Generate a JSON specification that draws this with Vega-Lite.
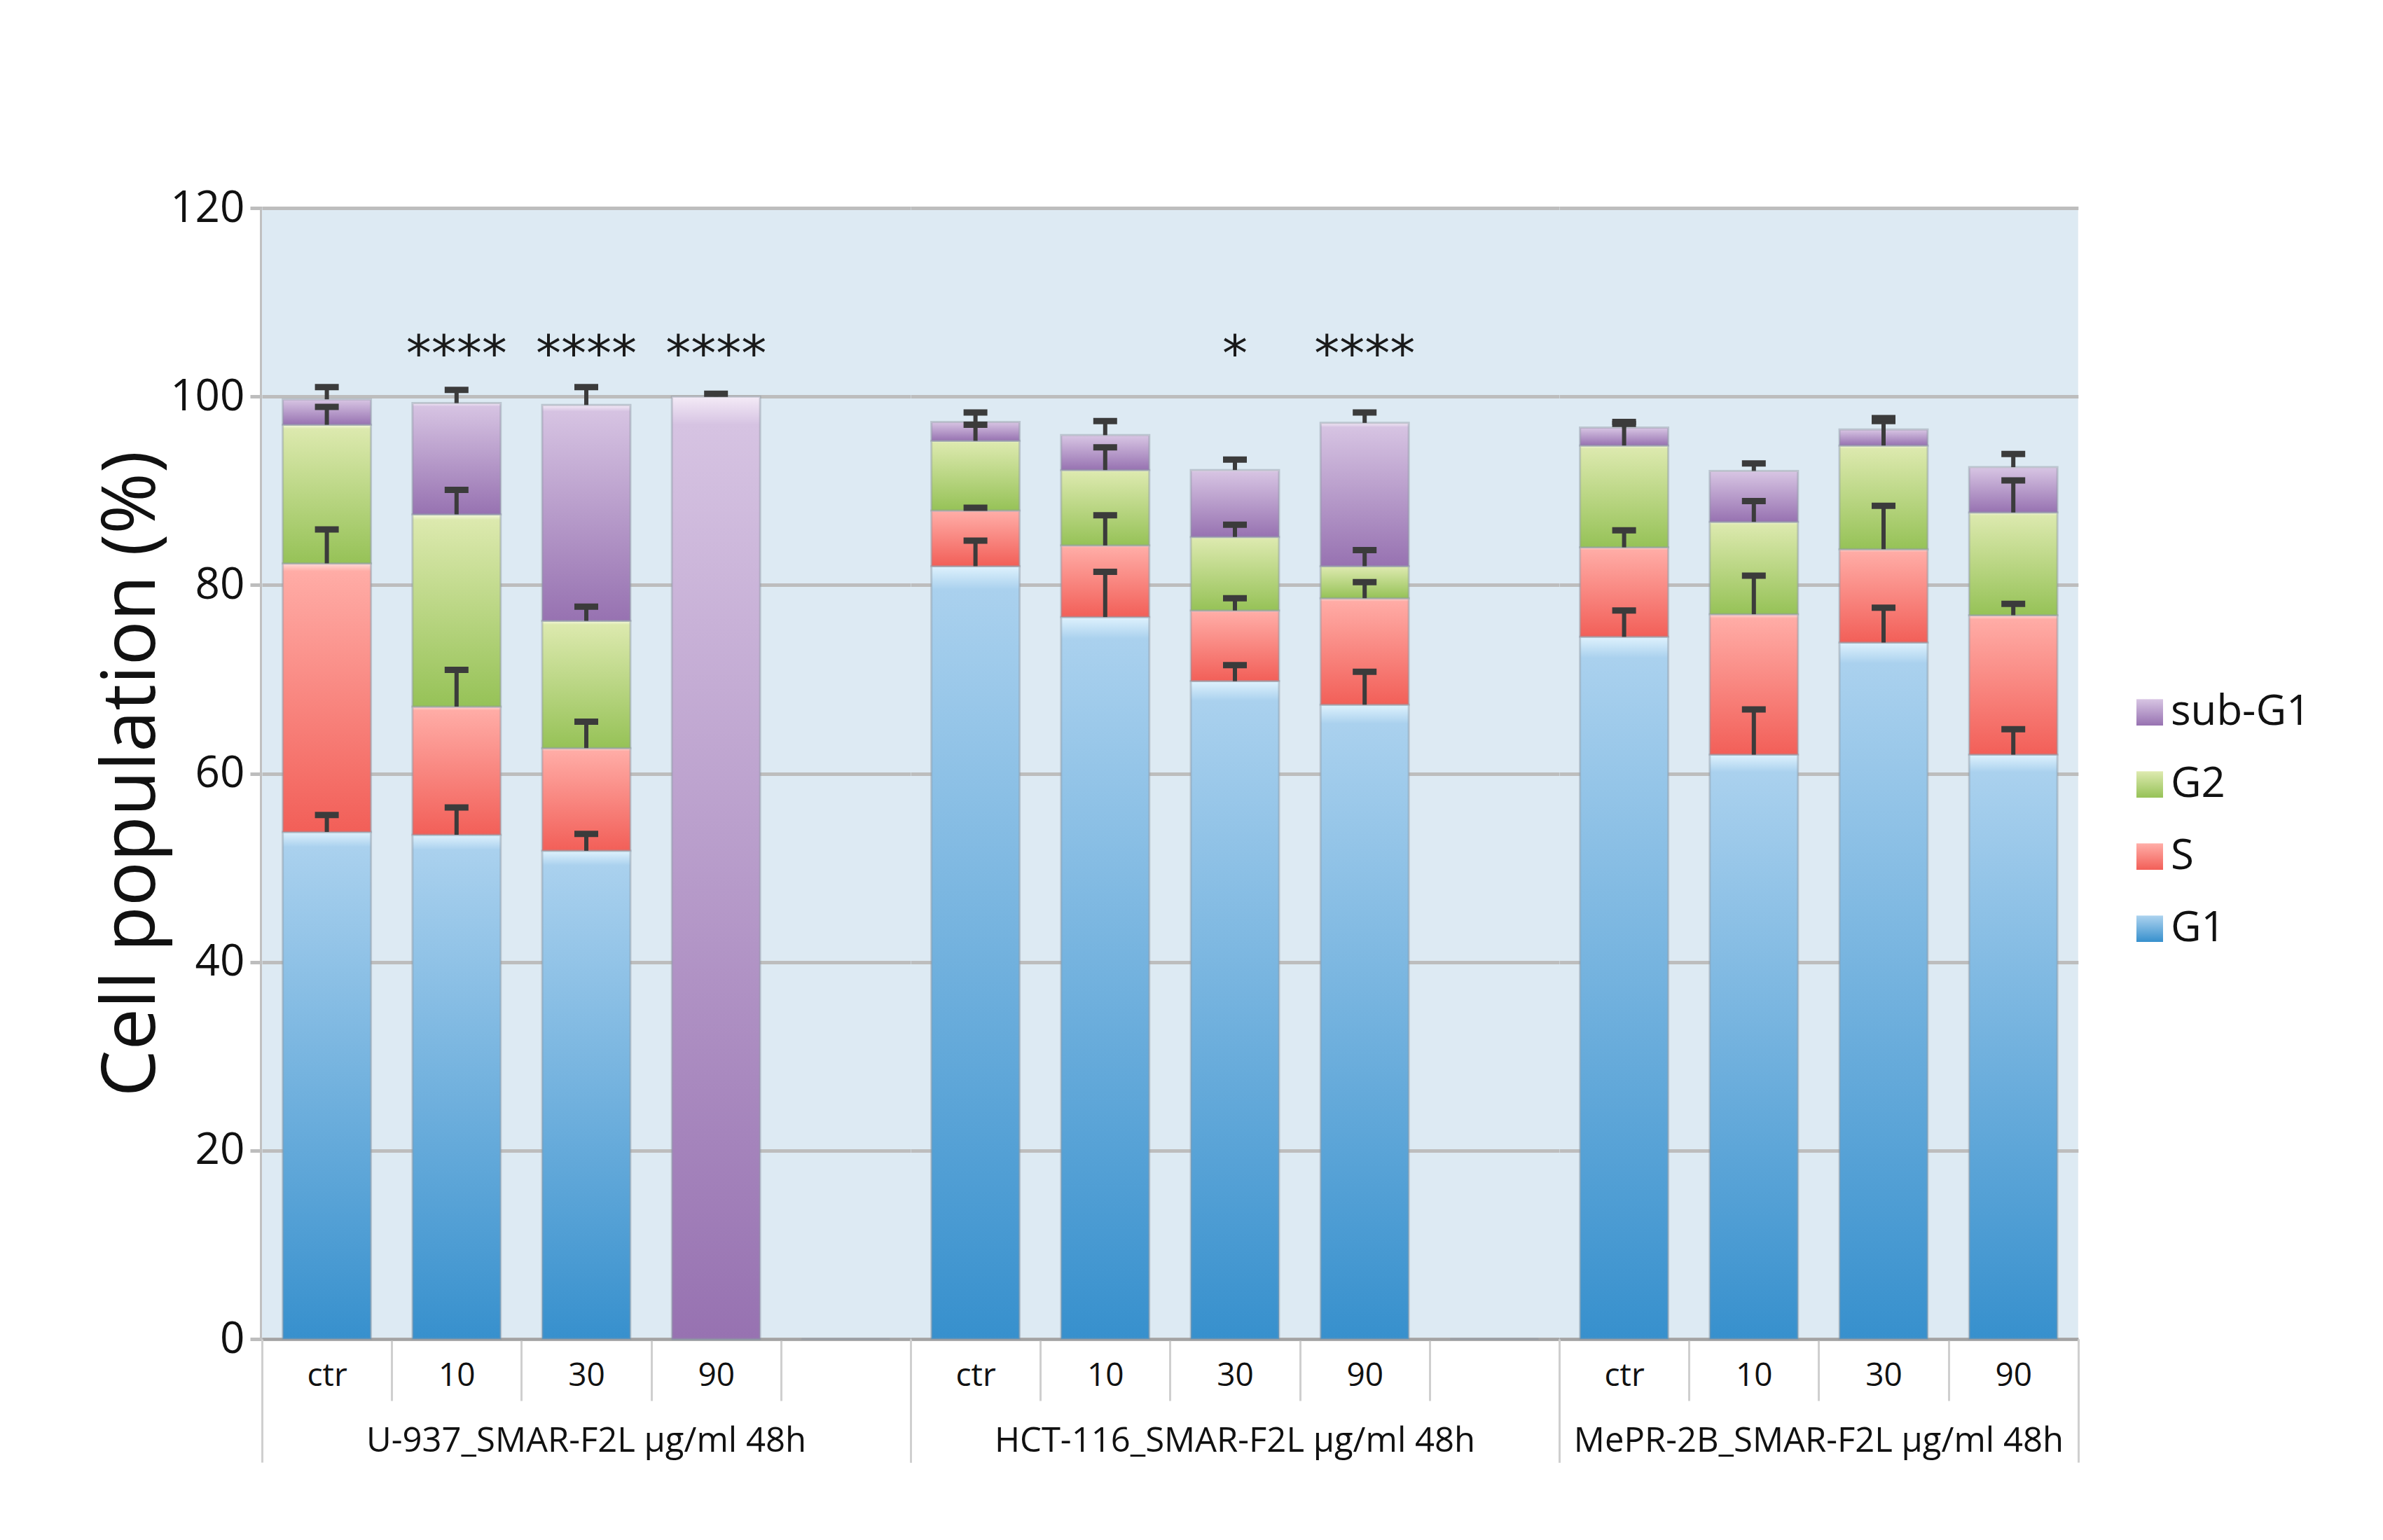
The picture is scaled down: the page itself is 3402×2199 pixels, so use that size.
{
  "$schema": "https://vega.github.io/schema/vega-lite/v6.json",
  "description": "Cell cycle distribution (stacked %) for three cell lines treated with SMAR-F2L for 48h.",
  "background": "white",
  "padding": {"top": 266, "left": 135, "right": 40, "bottom": 40},
  "spacing": 0,
  "bounds": "flush",
  "data": {
    "values": [
      {"group": "U-937_SMAR-F2L µg/ml 48h", "dose": "ctr", "phase": "G1", "value": 53.8, "err": 1.8},
      {"group": "U-937_SMAR-F2L µg/ml 48h", "dose": "ctr", "phase": "S", "value": 28.5, "err": 3.6},
      {"group": "U-937_SMAR-F2L µg/ml 48h", "dose": "ctr", "phase": "G2", "value": 14.7, "err": 1.9},
      {"group": "U-937_SMAR-F2L µg/ml 48h", "dose": "ctr", "phase": "sub-G1", "value": 2.7, "err": 1.3},
      {"group": "U-937_SMAR-F2L µg/ml 48h", "dose": "10", "phase": "G1", "value": 53.5, "err": 2.9},
      {"group": "U-937_SMAR-F2L µg/ml 48h", "dose": "10", "phase": "S", "value": 13.6, "err": 3.9},
      {"group": "U-937_SMAR-F2L µg/ml 48h", "dose": "10", "phase": "G2", "value": 20.4, "err": 2.6},
      {"group": "U-937_SMAR-F2L µg/ml 48h", "dose": "10", "phase": "sub-G1", "value": 11.8, "err": 1.4, "sig": "****"},
      {"group": "U-937_SMAR-F2L µg/ml 48h", "dose": "30", "phase": "G1", "value": 51.8, "err": 1.8},
      {"group": "U-937_SMAR-F2L µg/ml 48h", "dose": "30", "phase": "S", "value": 10.9, "err": 2.8},
      {"group": "U-937_SMAR-F2L µg/ml 48h", "dose": "30", "phase": "G2", "value": 13.5, "err": 1.5},
      {"group": "U-937_SMAR-F2L µg/ml 48h", "dose": "30", "phase": "sub-G1", "value": 22.9, "err": 1.9, "sig": "****"},
      {"group": "U-937_SMAR-F2L µg/ml 48h", "dose": "90", "phase": "G1", "value": 0, "err": 0},
      {"group": "U-937_SMAR-F2L µg/ml 48h", "dose": "90", "phase": "S", "value": 0, "err": 0},
      {"group": "U-937_SMAR-F2L µg/ml 48h", "dose": "90", "phase": "G2", "value": 0, "err": 0},
      {"group": "U-937_SMAR-F2L µg/ml 48h", "dose": "90", "phase": "sub-G1", "value": 100, "err": 0.3, "sig": "****"},
      {"group": "U-937_SMAR-F2L µg/ml 48h", "dose": "", "phase": "G1", "value": 0, "err": 0},
      {"group": "HCT-116_SMAR-F2L µg/ml 48h", "dose": "ctr", "phase": "G1", "value": 82.0, "err": 2.7},
      {"group": "HCT-116_SMAR-F2L µg/ml 48h", "dose": "ctr", "phase": "S", "value": 5.9, "err": 0.3},
      {"group": "HCT-116_SMAR-F2L µg/ml 48h", "dose": "ctr", "phase": "G2", "value": 7.4, "err": 1.7},
      {"group": "HCT-116_SMAR-F2L µg/ml 48h", "dose": "ctr", "phase": "sub-G1", "value": 2.0, "err": 1.0},
      {"group": "HCT-116_SMAR-F2L µg/ml 48h", "dose": "10", "phase": "G1", "value": 76.6, "err": 4.8},
      {"group": "HCT-116_SMAR-F2L µg/ml 48h", "dose": "10", "phase": "S", "value": 7.6, "err": 3.2},
      {"group": "HCT-116_SMAR-F2L µg/ml 48h", "dose": "10", "phase": "G2", "value": 8.0, "err": 2.4},
      {"group": "HCT-116_SMAR-F2L µg/ml 48h", "dose": "10", "phase": "sub-G1", "value": 3.7, "err": 1.5},
      {"group": "HCT-116_SMAR-F2L µg/ml 48h", "dose": "30", "phase": "G1", "value": 69.8, "err": 1.7},
      {"group": "HCT-116_SMAR-F2L µg/ml 48h", "dose": "30", "phase": "S", "value": 7.5, "err": 1.3},
      {"group": "HCT-116_SMAR-F2L µg/ml 48h", "dose": "30", "phase": "G2", "value": 7.8, "err": 1.3},
      {"group": "HCT-116_SMAR-F2L µg/ml 48h", "dose": "30", "phase": "sub-G1", "value": 7.1, "err": 1.1, "sig": "*"},
      {"group": "HCT-116_SMAR-F2L µg/ml 48h", "dose": "90", "phase": "G1", "value": 67.3, "err": 3.5},
      {"group": "HCT-116_SMAR-F2L µg/ml 48h", "dose": "90", "phase": "S", "value": 11.3, "err": 1.7},
      {"group": "HCT-116_SMAR-F2L µg/ml 48h", "dose": "90", "phase": "G2", "value": 3.4, "err": 1.7},
      {"group": "HCT-116_SMAR-F2L µg/ml 48h", "dose": "90", "phase": "sub-G1", "value": 15.2, "err": 1.1, "sig": "****"},
      {"group": "HCT-116_SMAR-F2L µg/ml 48h", "dose": "", "phase": "G1", "value": 0, "err": 0},
      {"group": "MePR-2B_SMAR-F2L µg/ml 48h", "dose": "ctr", "phase": "G1", "value": 74.5, "err": 2.8},
      {"group": "MePR-2B_SMAR-F2L µg/ml 48h", "dose": "ctr", "phase": "S", "value": 9.5, "err": 1.8},
      {"group": "MePR-2B_SMAR-F2L µg/ml 48h", "dose": "ctr", "phase": "G2", "value": 10.8, "err": 2.3},
      {"group": "MePR-2B_SMAR-F2L µg/ml 48h", "dose": "ctr", "phase": "sub-G1", "value": 1.9, "err": 0.6},
      {"group": "MePR-2B_SMAR-F2L µg/ml 48h", "dose": "10", "phase": "G1", "value": 62.0, "err": 4.8},
      {"group": "MePR-2B_SMAR-F2L µg/ml 48h", "dose": "10", "phase": "S", "value": 14.9, "err": 4.1},
      {"group": "MePR-2B_SMAR-F2L µg/ml 48h", "dose": "10", "phase": "G2", "value": 9.8, "err": 2.2},
      {"group": "MePR-2B_SMAR-F2L µg/ml 48h", "dose": "10", "phase": "sub-G1", "value": 5.4, "err": 0.8},
      {"group": "MePR-2B_SMAR-F2L µg/ml 48h", "dose": "30", "phase": "G1", "value": 73.9, "err": 3.7},
      {"group": "MePR-2B_SMAR-F2L µg/ml 48h", "dose": "30", "phase": "S", "value": 9.9, "err": 4.6},
      {"group": "MePR-2B_SMAR-F2L µg/ml 48h", "dose": "30", "phase": "G2", "value": 11.0, "err": 2.6},
      {"group": "MePR-2B_SMAR-F2L µg/ml 48h", "dose": "30", "phase": "sub-G1", "value": 1.7, "err": 1.2},
      {"group": "MePR-2B_SMAR-F2L µg/ml 48h", "dose": "90", "phase": "G1", "value": 62.0, "err": 2.7},
      {"group": "MePR-2B_SMAR-F2L µg/ml 48h", "dose": "90", "phase": "S", "value": 14.8, "err": 1.2},
      {"group": "MePR-2B_SMAR-F2L µg/ml 48h", "dose": "90", "phase": "G2", "value": 10.9, "err": 3.4},
      {"group": "MePR-2B_SMAR-F2L µg/ml 48h", "dose": "90", "phase": "sub-G1", "value": 4.8, "err": 1.4}
    ]
  },
  "transform": [
    {"calculate": "indexof(['G1', 'S', 'G2', 'sub-G1'], datum.phase)", "as": "ord"},
    {"stack": "value", "groupby": ["group", "dose"], "sort": [{"field": "ord", "order": "ascending"}], "as": ["v0", "v1"]},
    {"calculate": "datum.v1 + datum.err", "as": "hi"}
  ],
  "facet": {
    "column": {
      "field": "group",
      "type": "nominal",
      "sort": ["U-937_SMAR-F2L µg/ml 48h", "HCT-116_SMAR-F2L µg/ml 48h", "MePR-2B_SMAR-F2L µg/ml 48h"],
      "title": null,
      "header": {
        "labelOrient": "bottom",
        "labelFontSize": 49,
        "labelFont": "Open Sans",
        "labelColor": "#111111",
        "labelPadding": 122
      }
    }
  },
  "spec": {
    "width": {"step": 185.2},
    "height": 1615,
    "layer": [
      {
        "mark": {
          "type": "bar",
          "width": {"band": 0.68},
          "stroke": "#8d98a3",
          "strokeWidth": 3,
          "strokeOpacity": 0.45
        },
        "encoding": {
          "x": {
            "field": "dose",
            "type": "nominal",
            "sort": ["ctr", "10", "30", "90", ""],
            "scale": {"paddingInner": 0, "paddingOuter": 0},
            "axis": {
              "orient": "bottom",
              "title": null,
              "labelAngle": 0,
              "grid": false,
              "tickBand": "extent",
              "tickSize": 88,
              "tickColor": "#cfcfcf",
              "tickWidth": 3,
              "domainColor": "#a3a3a3",
              "domainWidth": 4,
              "labelFontSize": 46,
              "labelColor": "#111111",
              "labelPadding": -58
            }
          },
          "y": {
            "field": "v0",
            "type": "quantitative",
            "title": "Cell population (%)",
            "scale": {"domain": [0, 120], "nice": false},
            "axis": {
              "values": [0, 20, 40, 60, 80, 100, 120],
              "grid": true,
              "gridColor": "#bdbdbd",
              "gridWidth": 5,
              "domainColor": "#c0c0c0",
              "domainWidth": 7,
              "tickColor": "#bdbdbd",
              "tickWidth": 5,
              "tickSize": 17,
              "labelFontSize": 62,
              "labelColor": "#111111",
              "labelPadding": 8,
              "titleFontSize": 106,
              "titleFontWeight": "normal",
              "titleColor": "#111111",
              "titlePadding": 0
            }
          },
          "y2": {"field": "v1"},
          "color": {
            "field": "phase",
            "type": "nominal",
            "title": null,
            "scale": {
              "domain": ["sub-G1", "G2", "S", "G1"],
              "range": [
                {"expr": "{gradient: 'linear', x1: 0, y1: 0, x2: 0, y2: 1, stops: [{offset: 0, color: '#f4ebf7'}, {offset: 0.03, color: '#d6c3e2'}, {offset: 1, color: '#9772b1'}]}"},
                {"expr": "{gradient: 'linear', x1: 0, y1: 0, x2: 0, y2: 1, stops: [{offset: 0, color: '#f6f9df'}, {offset: 0.03, color: '#dce9ae'}, {offset: 1, color: '#96c257'}]}"},
                {"expr": "{gradient: 'linear', x1: 0, y1: 0, x2: 0, y2: 1, stops: [{offset: 0, color: '#ffdcd8'}, {offset: 0.03, color: '#ffaca6'}, {offset: 1, color: '#f25f58'}]}"},
                {"expr": "{gradient: 'linear', x1: 0, y1: 0, x2: 0, y2: 1, stops: [{offset: 0, color: '#dff2fd'}, {offset: 0.03, color: '#aad1ee'}, {offset: 1, color: '#3790cd'}]}"}
              ]
            },
            "legend": {
              "orient": "none",
              "legendX": 2665,
              "legendY": 690,
              "symbolType": "square",
              "symbolSize": 1444,
              "symbolStrokeWidth": 0,
              "labelFontSize": 60,
              "labelLimit": 500,
              "labelColor": "#111111",
              "labelOffset": 0,
              "rowPadding": 43
            }
          }
        }
      },
      {
        "transform": [{"filter": "datum.err > 0"}],
        "mark": {"type": "rule", "color": "#3b3b3b", "strokeWidth": 6},
        "encoding": {
          "x": {
            "field": "dose",
            "type": "nominal",
            "sort": ["ctr", "10", "30", "90", ""],
            "axis": {
              "orient": "bottom",
              "title": null,
              "labels": false,
              "domain": false,
              "grid": false,
              "tickBand": "extent",
              "tickSize": 176,
              "tickColor": "#cfcfcf",
              "tickWidth": 3,
              "tickOpacity": {"condition": {"test": "datum.extra || datum.index === 1", "value": 1}, "value": 0}
            }
          },
          "y": {"field": "v1", "type": "quantitative"},
          "y2": {"field": "hi"}
        }
      },
      {
        "transform": [{"filter": "datum.err > 0"}],
        "mark": {"type": "tick", "color": "#3b3b3b", "opacity": 1, "size": 34, "thickness": 9},
        "encoding": {
          "x": {"field": "dose", "type": "nominal", "sort": ["ctr", "10", "30", "90", ""], "axis": null},
          "y": {"field": "hi", "type": "quantitative"}
        }
      },
      {
        "transform": [{"filter": "datum.sig"}],
        "mark": {"type": "text", "fontSize": 72, "font": "DejaVu Sans", "color": "#1a1a1a", "baseline": "middle"},
        "encoding": {
          "x": {"field": "dose", "type": "nominal", "sort": ["ctr", "10", "30", "90", ""], "axis": null},
          "y": {"datum": 104.4, "type": "quantitative"},
          "text": {"field": "sig"}
        }
      }
    ],
    "resolve": {"axis": {"x": "independent"}}
  },
  "resolve": {"scale": {"x": "independent"}},
  "config": {
    "font": "Open Sans",
    "view": {"stroke": null, "fill": "#ddeaf3"}
  }
}
